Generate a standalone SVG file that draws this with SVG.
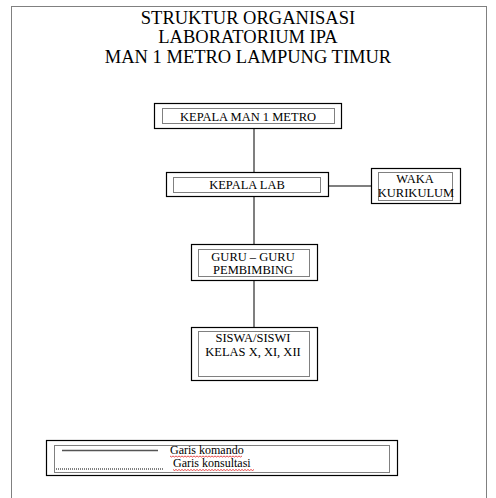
<svg xmlns="http://www.w3.org/2000/svg" width="496" height="498" viewBox="0 0 496 498">
<style>
text{font-family:"Liberation Serif","Times New Roman",serif;fill:#000}
.title{font-size:18.5px;text-anchor:middle}
.lbl{font-size:12.5px;text-anchor:middle}
.leg{font-size:12px}
.box{fill:#fff;stroke:#000;stroke-width:1.2}
.inner{fill:none;stroke:#000;stroke-width:1;stroke-dasharray:1,1}
.cmd{stroke:#555;stroke-width:1.5;fill:none}
.wavy{stroke:#d00;stroke-width:0.7;fill:none}
</style>
<rect width="496" height="498" fill="#fff"/>
<rect x="11.5" y="6.5" width="475" height="500" class="inner"/>
<g id="title">
<text class="title" x="248" y="24">STRUKTUR ORGANISASI</text>
<text class="title" x="248" y="43">LABORATORIUM IPA</text>
<text class="title" x="248" y="63">MAN 1 METRO LAMPUNG TIMUR</text>
</g>
<g id="connectors">
<line class="cmd" x1="254" y1="129" x2="254" y2="172"/>
<line class="cmd" x1="254" y1="196" x2="254" y2="244"/>
<line class="cmd" x1="254" y1="280" x2="254" y2="327"/>
<line x1="328" y1="186" x2="371" y2="186" stroke="#000" stroke-width="1.2"/>
</g>
<g id="kepala-man">
<rect class="box" x="154.5" y="103.5" width="187" height="25"/>
<rect class="inner" x="162.5" y="108.5" width="172" height="15"/>
<text class="lbl" x="248" y="120.5">KEPALA MAN 1 METRO</text>
</g>
<g id="kepala-lab">
<rect class="box" x="166.5" y="172.5" width="162" height="24"/>
<rect class="inner" x="173.5" y="177.5" width="147" height="15"/>
<text class="lbl" x="247" y="189">KEPALA LAB</text>
</g>
<g id="waka">
<rect class="box" x="371.5" y="168.5" width="89" height="35"/>
<rect class="inner" x="378.5" y="172.5" width="74" height="28"/>
<text class="lbl" x="415" y="183">WAKA</text>
<text class="lbl" x="416" y="197">KURIKULUM</text>
</g>
<g id="guru">
<rect class="box" x="191.5" y="244.5" width="126" height="36"/>
<rect class="inner" x="198.5" y="249.5" width="111" height="27"/>
<text class="lbl" x="253" y="261">GURU – GURU</text>
<text class="lbl" x="253" y="274">PEMBIMBING</text>
</g>
<g id="siswa">
<rect class="box" x="191.5" y="327.5" width="126" height="53"/>
<rect class="inner" x="198.5" y="331.5" width="111" height="45"/>
<text class="lbl" x="253" y="342">SISWA/SISWI</text>
<text class="lbl" x="253" y="356">KELAS X, XI, XII</text>
</g>
<g id="legend">
<rect class="box" x="46.5" y="440.5" width="351" height="35"/>
<rect class="inner" x="54.5" y="445.5" width="335" height="27"/>
<line class="cmd" x1="62" y1="450.5" x2="158" y2="450.5"/>
<line class="inner" x1="56" y1="469" x2="163" y2="469"/>
<text class="leg" x="170" y="453.5">Garis komando</text>
<text class="leg" x="173" y="467">Garis konsultasi</text>
<path class="wavy" d="M170 456 l1.5 1 l1.5 -1 l1.5 1 l1.5 -1 l1.5 1 l1.5 -1 l1.5 1 l1.5 -1 l1.5 1 l1.5 -1 l1.5 1 l1.5 -1 l1.5 1 l1.5 -1 l1.5 1 l1.5 -1 l1.5 1 l1.5 -1 l1.5 1 l1.5 -1 l1.5 1 l1.5 -1 l1.5 1 l1.5 -1 l1.5 1 l1.5 -1 l1.5 1 l1.5 -1 l1.5 1 l1.5 -1 l1.5 1 l1.5 -1 l1.5 1 l1.5 -1 l1.5 1 l1.5 -1 l1.5 1 l1.5 -1 l1.5 1 l1.5 -1 l1.5 1 l1.5 -1 l1.5 1 l1.5 -1 l1.5 1 l1.5 -1 l1.5 1 l1.5 -1"/>
<path class="wavy" d="M173 469.5 l1.5 1 l1.5 -1 l1.5 1 l1.5 -1 l1.5 1 l1.5 -1 l1.5 1 l1.5 -1 l1.5 1 l1.5 -1 l1.5 1 l1.5 -1 l1.5 1 l1.5 -1 l1.5 1 l1.5 -1 l1.5 1 l1.5 -1 l1.5 1 l1.5 -1 l1.5 1 l1.5 -1 l1.5 1 l1.5 -1 l1.5 1 l1.5 -1 l1.5 1 l1.5 -1 l1.5 1 l1.5 -1 l1.5 1 l1.5 -1 l1.5 1 l1.5 -1 l1.5 1 l1.5 -1 l1.5 1 l1.5 -1 l1.5 1 l1.5 -1 l1.5 1 l1.5 -1 l1.5 1 l1.5 -1 l1.5 1 l1.5 -1 l1.5 1 l1.5 -1 l1.5 1 l1.5 -1 l1.5 1 l1.5 -1 l1.5 1 l1.5 -1"/>
</g>
</svg>
